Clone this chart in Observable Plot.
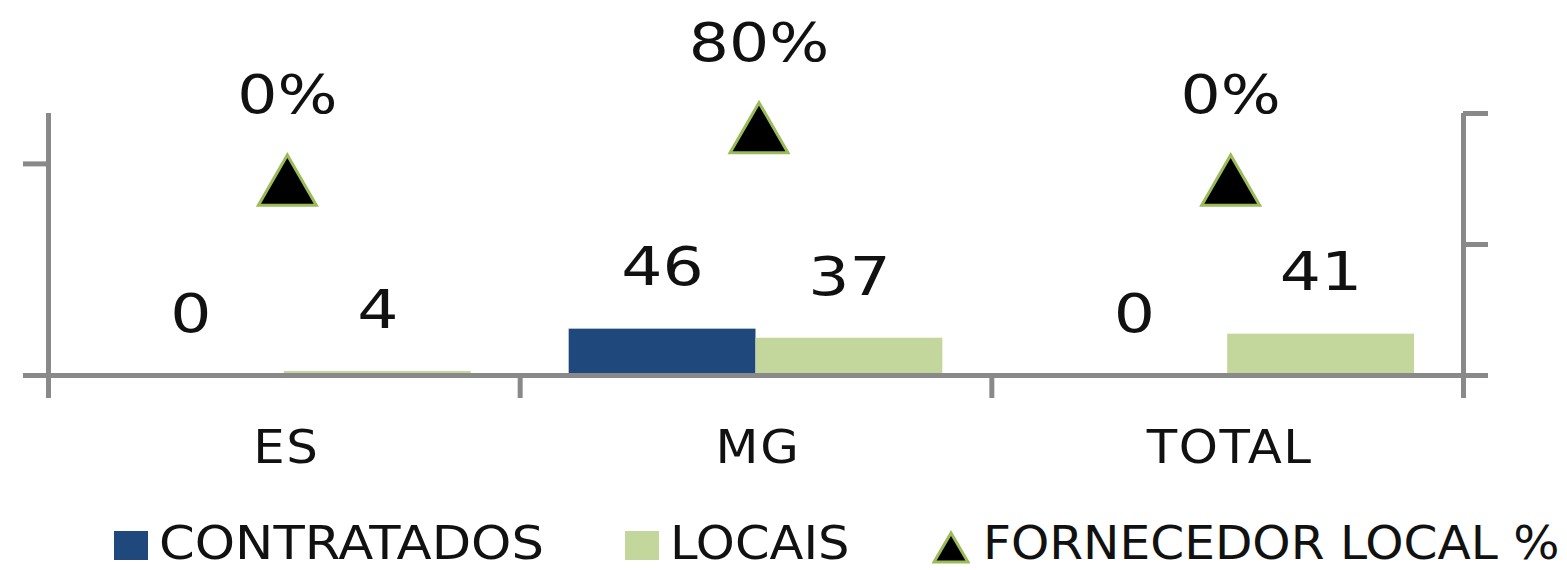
<!DOCTYPE html>
<html>
<head>
<meta charset="utf-8">
<script src="https://cdn.jsdelivr.net/npm/d3@7"></script>
<script src="https://cdn.jsdelivr.net/npm/@observablehq/plot@0.6"></script>
<style>
  html, body { margin: 0; padding: 0; background: #fff; }
  #wrap { position: relative; width: 1567px; height: 570px; overflow: hidden; font-family: "DejaVu Sans", sans-serif; }
  #legend { position: absolute; left: 0; top: 500px; width: 1567px; height: 70px; color: #111; }
  .item { position: absolute; top: 0; height: 70px; display: flex; align-items: center; padding-top: 14px; box-sizing: border-box; }
  .item span { font-size: 47px; white-space: nowrap; display: inline-block; transform-origin: left center; }
  .sw { width: 34px; height: 29px; margin-right: 11px; position: relative; top: 3px; }
</style>
</head>
<body>
<div id="wrap">
  <div id="chart"></div>
  <div id="legend"></div>
</div>
<script>
// ---- data ----
const categories = ["ES", "MG", "TOTAL"];
const contratados = [0, 46, 0];
const locais = [4, 37, 41];
const fornecedorLocalPct = [0, 80, 0];
const seriesNames = ["CONTRATADOS", "LOCAIS", "FORNECEDOR LOCAL %"];
const leftTicks = [0, 210];
const leftDomain = [0, 260];
const rightTicks = [-300, -100, 100];
const rightDomain = [-300, 100];

// ---- layout / style ----
const W = 1567, H = 500;
const mL = 48, mR = 104, mT = 113, mB = 125;
const navy = "#1F497D", green = "#C3D69B", olive = "#9BBB59", grey = "#898989", ink = "#111";
const xPerPx = categories.length / (W - mL - mR);
const yPerPx = (leftDomain[1] - leftDomain[0]) / (H - mT - mB);
const groupPad = 49 * xPerPx;                // gap between category edge and bars
const barW = (1 - 2 * groupPad) / 2;         // two bars per category
const tickLen = 25, tickDrop = 23;

const pctToLeft = d3.scaleLinear(rightDomain, leftDomain);

const barRows = categories.flatMap((cat, i) => [
  {cat, i, k: 0, series: seriesNames[0], value: contratados[i]},
  {cat, i, k: 1, series: seriesNames[1], value: locais[i]}
]);
const pctRows = categories.map((cat, i) => ({cat, i, pct: fornecedorLocalPct[i]}));
const catRows = categories.map((cat, i) => ({cat, i}));

const bx1 = d => d.i + groupPad + d.k * barW;
const bx2 = d => d.i + groupPad + (d.k + 1) * barW;
const bxc = d => d.i + groupPad + (d.k + 0.5) * barW;

// wide-glyph look of the original: horizontal stretch + letter spacing per text mark
const textStyle = {
  "bar-labels": {sx: 1.2, ls: 0},
  "pct-labels": {sx: 1.17, ls: 0},
  "cat-labels": {sx: 1.06, ls: 1.5}
};

const chart = Plot.plot({
  width: W, height: H,
  marginLeft: mL, marginRight: mR, marginTop: mT, marginBottom: mB,
  x: {domain: [0, categories.length], axis: null},
  y: {domain: leftDomain, axis: null},
  color: {domain: seriesNames.slice(0, 2), range: [navy, green]},
  style: {fontFamily: "DejaVu Sans, sans-serif", background: "white", overflow: "visible"},
  marks: [
    Plot.rectY(barRows, {x1: bx1, x2: bx2, y: "value", fill: "series"}),
    // baseline
    Plot.ruleY([0], {x1: 0, x2: categories.length, stroke: grey, strokeWidth: 5}),
    // left & right axis lines
    Plot.ruleX([0, categories.length], {y1: -tickDrop * yPerPx, y2: leftDomain[1], stroke: grey, strokeWidth: 5}),
    // category boundary ticks
    Plot.ruleX(d3.range(1, categories.length), {y1: -tickDrop * yPerPx, y2: 0, stroke: grey, strokeWidth: 5}),
    // left ticks
    Plot.ruleY(leftTicks, {x1: -tickLen * xPerPx, x2: 0, stroke: grey, strokeWidth: 5}),
    // right ticks
    Plot.ruleY(rightTicks.map(pctToLeft), {x1: categories.length, x2: categories.length + tickLen * xPerPx, stroke: grey, strokeWidth: 5}),
    // bar value labels
    Plot.text(barRows, {x: bxc, y: "value", text: d => String(d.value), dy: -61, fill: ink, fontSize: 54, ariaLabel: "bar-labels"}),
    // triangles (secondary axis)
    Plot.dot(pctRows, {x: d => d.i + 0.5, y: d => pctToLeft(d.pct), symbol: "triangle", r: 21.5, fill: "#000", stroke: olive, strokeWidth: 3, dx: 3, dy: 9.5}),
    // percentage labels
    Plot.text(pctRows, {x: d => d.i + 0.5, y: d => pctToLeft(d.pct), text: d => d.pct + "%", dy: -83, dx: 3, fill: ink, fontSize: 54, ariaLabel: "pct-labels"}),
    // category labels
    Plot.text(catRows, {x: d => d.i + 0.5, y: 0, text: "cat", dy: 72, dx: 2, fill: ink, fontSize: 47, ariaLabel: "cat-labels"})
  ]
});
document.getElementById("chart").appendChild(chart);

// apply the text styling (by aria-label, else by order)
const textGroups = Array.from(chart.querySelectorAll("g")).filter(g => g.querySelector(":scope > text"));
const keys = Object.keys(textStyle);
textGroups.forEach((g, idx) => {
  const lab = g.getAttribute("aria-label");
  const s = textStyle[lab] || textStyle[keys[idx]];
  if (!s) return;
  g.querySelectorAll("text").forEach(t => {
    if (s.ls) { t.style.letterSpacing = s.ls + "px"; t.setAttribute("letter-spacing", s.ls); }
    t.setAttribute("transform", (t.getAttribute("transform") || "") + ` scale(${s.sx},1)`);
  });
});

// ---- legend ----
const legend = document.getElementById("legend");
const legendX = [114, 625, 932];
const legendStretch = [1.09, 1.055, 1.035];
seriesNames.forEach((name, j) => {
  const item = document.createElement("div");
  item.className = "item";
  item.style.left = legendX[j] + "px";
  let sw;
  if (j < 2) {
    sw = document.createElement("div");
    sw.className = "sw";
    sw.style.background = j === 0 ? navy : green;
  } else {
    sw = document.createElementNS("http://www.w3.org/2000/svg", "svg");
    sw.setAttribute("width", 38);
    sw.setAttribute("height", 34);
    sw.style.marginRight = "13px";
    sw.style.position = "relative";
    sw.style.top = "5px";
    const p = document.createElementNS("http://www.w3.org/2000/svg", "polygon");
    p.setAttribute("points", "19,3 36,32 2,32");
    p.setAttribute("fill", "#000");
    p.setAttribute("stroke", olive);
    p.setAttribute("stroke-width", 3);
    sw.appendChild(p);
  }
  const t = document.createElement("span");
  t.textContent = name;
  t.style.transform = `scaleX(${legendStretch[j]})`;
  item.appendChild(sw);
  item.appendChild(t);
  legend.appendChild(item);
});
</script>
</body>
</html>
